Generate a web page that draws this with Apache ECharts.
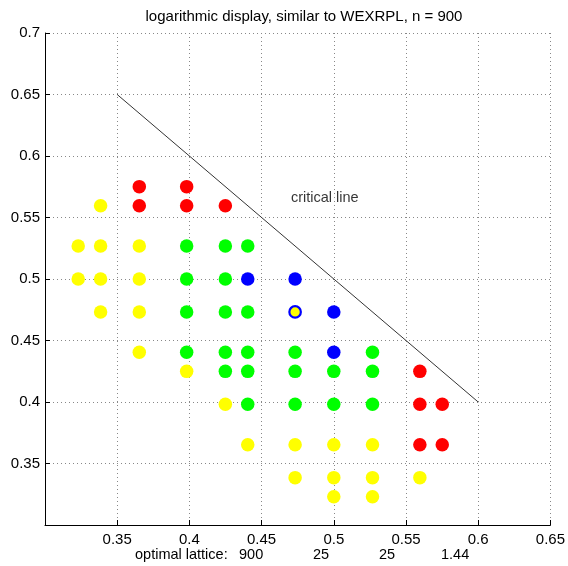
<!DOCTYPE html>
<html><head><meta charset="utf-8">
<script src="https://cdn.jsdelivr.net/npm/echarts@6/dist/echarts.min.js"></script>
<style>html,body{margin:0;padding:0;background:#fff}#c{width:568px;height:566px}</style>
</head><body><div id="c"></div>
<script>
const titleText = 'logarithmic display, similar to WEXRPL, n = 900';
const redPoints = [[0.3653,0.5751],[0.3981,0.5751],[0.3653,0.5596],[0.3981,0.5596],[0.4249,0.5596],
  [0.5596,0.4249],[0.5596,0.3981],[0.5751,0.3981],[0.5596,0.3653],[0.5751,0.3653]];
const yellowPoints = [[0.3385,0.5596],
  [0.3230,0.5268],[0.3385,0.5268],[0.3653,0.5268],
  [0.3230,0.5],[0.3385,0.5],[0.3653,0.5],
  [0.3385,0.4732],[0.3653,0.4732],
  [0.3653,0.4404],[0.3981,0.4249],[0.4249,0.3981],
  [0.4404,0.3653],[0.4732,0.3653],[0.5,0.3653],[0.5268,0.3653],
  [0.4732,0.3385],[0.5,0.3385],[0.5268,0.3385],[0.5596,0.3385],
  [0.5,0.3230],[0.5268,0.3230]];
const greenPoints = [[0.3981,0.5268],[0.4249,0.5268],[0.4404,0.5268],
  [0.3981,0.5],[0.4249,0.5],
  [0.3981,0.4732],[0.4249,0.4732],[0.4404,0.4732],
  [0.3981,0.4404],[0.4249,0.4404],[0.4404,0.4404],[0.4732,0.4404],[0.5268,0.4404],
  [0.4249,0.4249],[0.4404,0.4249],[0.4732,0.4249],[0.5,0.4249],[0.5268,0.4249],
  [0.4404,0.3981],[0.4732,0.3981],[0.5,0.3981],[0.5268,0.3981]];
const bluePoints = [[0.4404,0.5],[0.4732,0.5],[0.5,0.4732],[0.5,0.4404]];
const ringPoints = [[0.4732,0.4732]];
const criticalLine = [[0.35,0.65],[0.6,0.4]];
const criticalLabel = [[0.4703,0.5656]];
const latticeLabels = ['optimal lattice:', '900', '25', '25', '1.44'];

const chart = echarts.init(document.getElementById('c'));
const font = 'Liberation Sans, Arial, sans-serif';
const axisCommon = {
  type: 'value', interval: 0.05,
  axisLine: {show: true, lineStyle: {color: '#000', width: 1}},
  axisTick: {show: true, inside: true, length: 5, lineStyle: {color: '#000'}},
  axisLabel: {color: '#000', fontSize: 15, fontFamily: font, showMinLabel: false,
    formatter: v => String(parseFloat(v.toFixed(2)))},
  splitLine: {show: true, lineStyle: {type: [1, 3], color: '#888', width: 1}}
};
const sym = 13.5;
const bt = (left, text) => ({type: 'text', left: left, top: 547, style: {text: text, font: '14.5px ' + font, fill: '#000'}});
chart.setOption({
  animation: false,
  title: {text: titleText, left: 299, top: 4, textAlign: 'center',
    textStyle: {fontSize: 15, fontWeight: 'normal', color: '#000', fontFamily: font}},
  grid: {left: 45, right: 13, top: 33, bottom: 41},
  xAxis: Object.assign({}, axisCommon, {min: 0.3, max: 0.65,
    axisLabel: Object.assign({}, axisCommon.axisLabel, {margin: 7})}),
  yAxis: Object.assign({}, axisCommon, {min: 0.3, max: 0.7,
    axisLabel: Object.assign({}, axisCommon.axisLabel, {margin: 5})}),
  graphic: [
    bt(135, latticeLabels[0]), bt(239, latticeLabels[1]), bt(313, latticeLabels[2]),
    bt(379, latticeLabels[3]), bt(441, latticeLabels[4])
  ],
  series: [
    {type: 'line', data: criticalLine, symbol: 'none', lineStyle: {color: '#333', width: 1}, z: 1},
    {type: 'scatter', data: criticalLabel, symbolSize: 0,
      label: {show: true, position: 'right', distance: 0, formatter: 'critical line', color: '#000', fontSize: 14.5, fontFamily: font}},
    {type: 'scatter', data: redPoints, symbolSize: sym, itemStyle: {color: '#ff0000', opacity: 1}},
    {type: 'scatter', data: yellowPoints, symbolSize: sym, itemStyle: {color: '#ffff00', opacity: 1}},
    {type: 'scatter', data: greenPoints, symbolSize: sym, itemStyle: {color: '#00ff00', opacity: 1}},
    {type: 'scatter', data: bluePoints, symbolSize: sym, itemStyle: {color: '#0000ff', opacity: 1}},
    {type: 'scatter', data: ringPoints, symbolSize: sym - 2, itemStyle: {color: '#ffff00', borderColor: '#0000ff', borderWidth: 2.2, opacity: 1}}
  ]
});
</script></body></html>
